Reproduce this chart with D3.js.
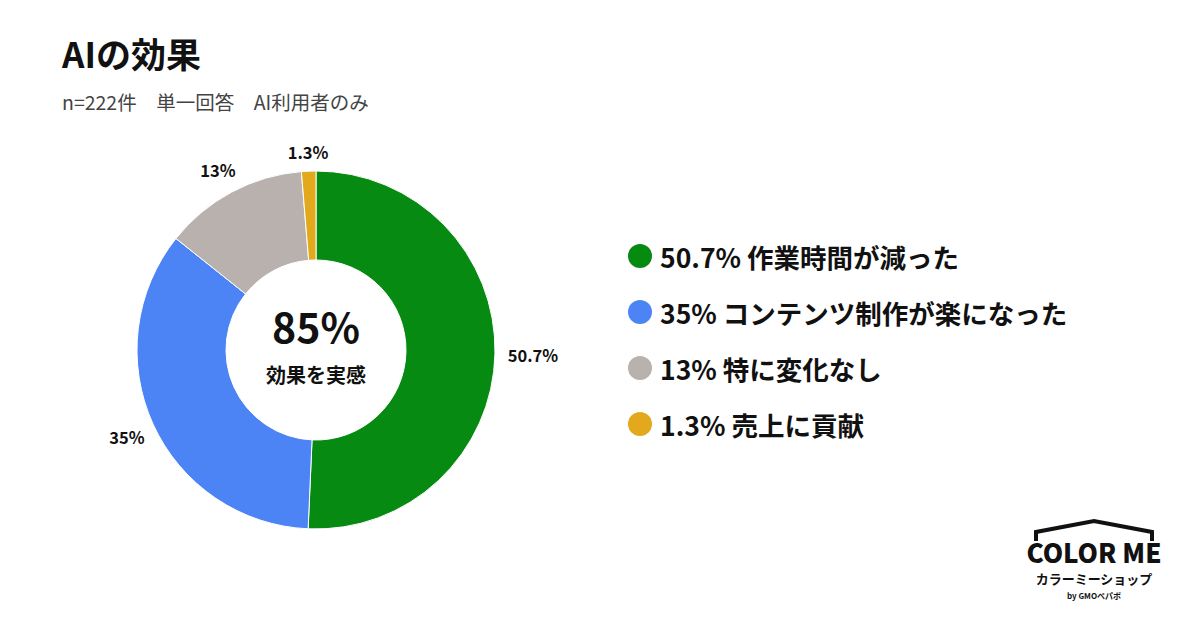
<!DOCTYPE html>
<html><head><meta charset="utf-8">
<script src="https://cdn.jsdelivr.net/npm/d3@7"></script>
<style>body{margin:0;background:#fff}text{font-family:"Noto Sans CJK JP","Noto Sans",sans-serif}</style>
</head><body><svg id="c" width="1200" height="630"></svg>
<script>
const categories=["作業時間が減った","コンテンツ制作が楽になった","特に変化なし","売上に貢献"];
const values=[50.7,35,13,1.3];
const labels=["50.7%","35%","13%","1.3%"];
const colors=["#078a12","#4d84f5","#b8b1ad","#e1a91b"];
const svg=d3.select("#c");
svg.append("text").attr("x",62).attr("y",68).attr("font-size",35).attr("font-weight",700).attr("fill","#111").text("AIの効果");
svg.append("text").attr("x",62).attr("y",110).attr("font-size",19.5).attr("fill","#444").text("n=222件　単一回答　AI利用者のみ");
const cx=316,cy=350,R=179,r=90;
const pie=d3.pie().sort(null).value(d=>d)(values);
const arc=d3.arc().innerRadius(r).outerRadius(R);
const g=svg.append("g").attr("transform",`translate(${cx},${cy})`);
g.selectAll("path").data(pie).join("path").attr("d",arc).attr("fill",(d,i)=>colors[i]).attr("stroke","#fff").attr("stroke-width",1);
const lab=d3.arc().innerRadius(R+35).outerRadius(R+35);
g.selectAll("text.l").data(pie).join("text").attr("class","l")
 .attr("transform",(d,i)=>{let [x,y]=lab.centroid(d); if(i==3){x=-8;y=-R-16;} if(i==2){x=-98;y=-R+2;} if(i==0){x=R+38;y=8;} if(i==1){x=-189;y=90;} return `translate(${x},${y})`;})
 .attr("text-anchor","middle").attr("dominant-baseline","middle").attr("font-size",16.5).attr("font-weight",700).attr("fill","#111").text((d,i)=>labels[i]);
g.append("text").attr("y",-7).attr("text-anchor","middle").attr("font-size",41).attr("font-weight",700).attr("fill","#111").text("85%");
g.append("text").attr("y",33).attr("text-anchor","middle").attr("font-size",20).attr("font-weight",700).attr("fill","#111").text("効果を実感");
const lg=svg.append("g");
categories.forEach((c,i)=>{
 const y=256+i*56;
 lg.append("circle").attr("cx",640).attr("cy",y).attr("r",12).attr("fill",colors[i]);
 lg.append("text").attr("x",660).attr("y",y).attr("dominant-baseline","central").attr("font-size",26.5).attr("font-weight",700).attr("fill","#111").text(labels[i]+" "+c);
});
const lo=svg.append("g");
lo.append("path").attr("d","M1036,541 L1036,532 L1094,521 L1152,532 L1152,541").attr("fill","none").attr("stroke","#111").attr("stroke-width",4);
lo.append("text").attr("x",1094).attr("y",563).attr("text-anchor","middle").attr("font-size",26).attr("font-weight",900).attr("font-family","Inter, sans-serif").attr("fill","#111").text("COLOR ME");
lo.append("text").attr("x",1094).attr("y",584).attr("text-anchor","middle").attr("font-size",13).attr("font-weight",700).attr("fill","#111").text("カラーミーショップ");
lo.append("text").attr("x",1094).attr("y",599).attr("text-anchor","middle").attr("font-size",8).attr("font-weight",700).attr("fill","#111").text("by GMOペパボ");
</script></body></html>
